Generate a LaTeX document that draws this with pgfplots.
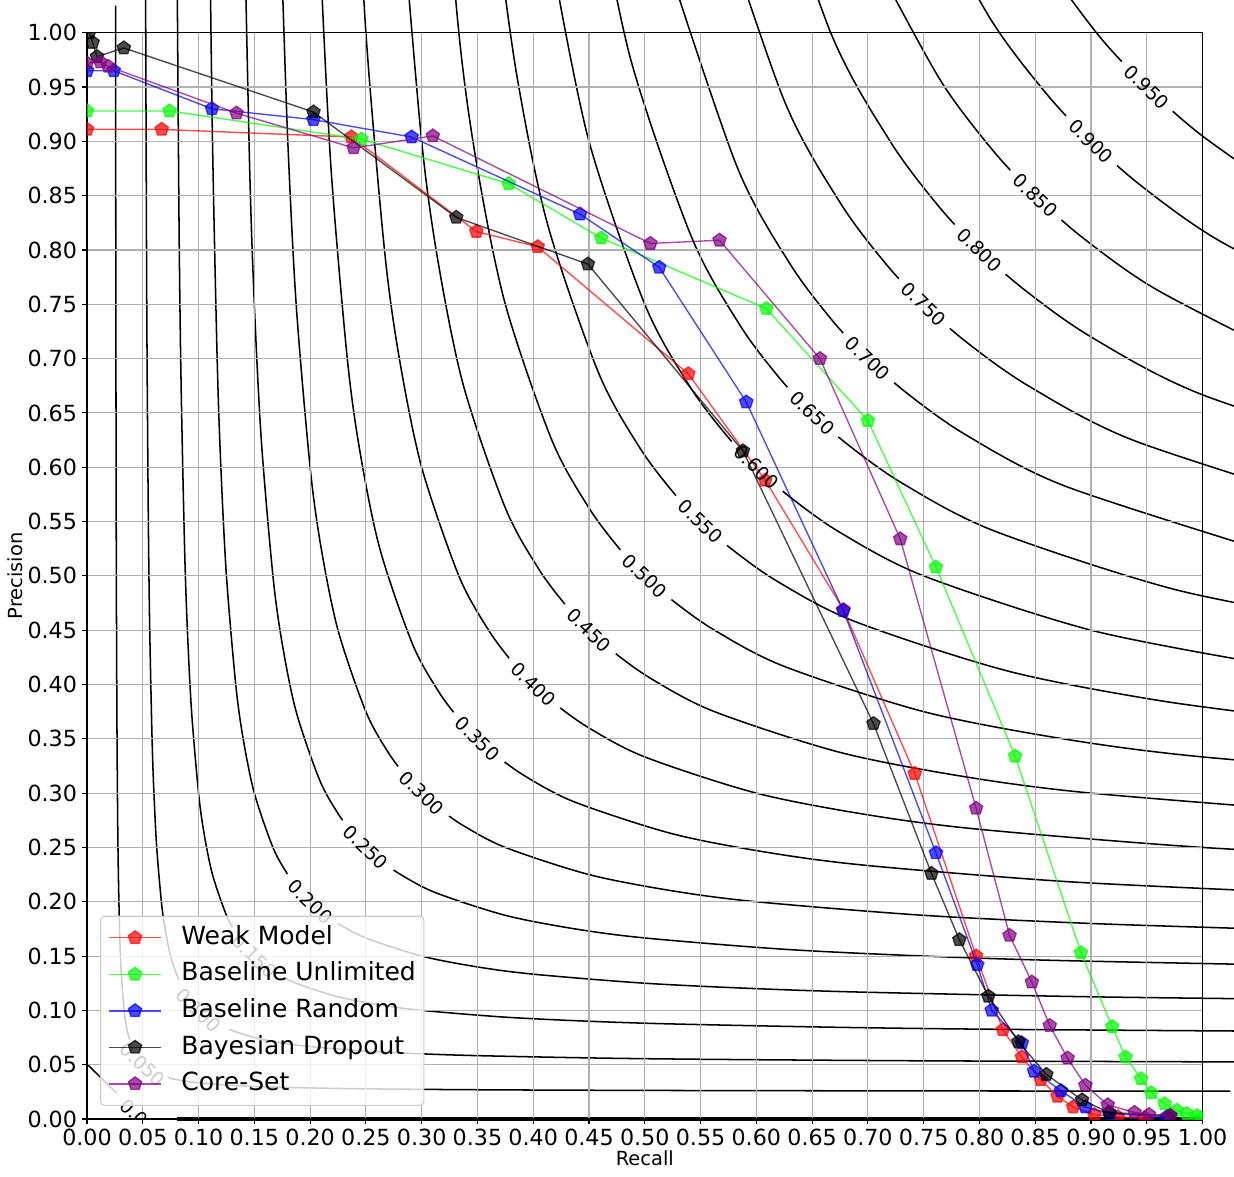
\documentclass[border=0pt]{standalone}
\usepackage{pgfplots}
\pgfplotsset{compat=1.18}
\usepackage{fontspec}
\setmainfont{DejaVu Sans}
\definecolor{gridc}{HTML}{B0B0B0}
\definecolor{cpurple}{HTML}{800080}
\definecolor{clime}{HTML}{00FF00}
\newcommand{\clab}{\fontsize{13.5}{16}\selectfont}
\newcommand{\ctext}[2]{\node[rotate=-44.2,font=\clab,inner sep=0pt] at (axis cs:#1,#1) {#2};}
\begin{document}
\begin{tikzpicture}
\begin{axis}[
 set layers,
 scale only axis, width=803.2pt, height=782.1pt,
 xmin=0, xmax=1, ymin=0, ymax=1,
 xtick={0,0.05,0.1,0.15,0.2,0.25,0.3,0.35,0.4,0.45,0.5,0.55,0.6,0.65,0.7,0.75,0.8,0.85,0.9,0.95,1},
 ytick={0,0.05,0.1,0.15,0.2,0.25,0.3,0.35,0.4,0.45,0.5,0.55,0.6,0.65,0.7,0.75,0.8,0.85,0.9,0.95,1},
 xtick pos=bottom, ytick pos=left,
 tick align=outside, major tick length=3.5pt,
 every tick/.style={black, line width=0.8pt},
 axis line style={line width=0.8pt},
 grid=major, major grid style={gridc, line width=0.8pt},
 /pgf/number format/fixed, /pgf/number format/fixed zerofill,
 /pgf/number format/precision=2, /pgf/number format/assume math mode=true,
 tick label style={font=\fontsize{16}{19.2}\selectfont, inner sep=3.5pt},
 xlabel={Recall}, ylabel={Precision},
 label style={font=\fontsize{14}{16.8}\selectfont},
 xlabel style={at={(axis description cs:0.5,-0.0285)}, anchor=north, inner sep=0pt},
 ylabel style={at={(axis description cs:-0.0573,0.5)}, anchor=south, inner sep=0pt},
 clip marker paths=true,
 legend style={at={(0,0)}, anchor=south west, xshift=9.4pt, yshift=9.4pt,
   draw=black!20, line width=0.8pt, fill=white, fill opacity=0.8, text opacity=1,
   rounded corners=2.8pt, inner xsep=5.8pt, inner ysep=7.2pt, row sep=9.7pt, column sep=14.4pt,
   font=\fontsize{18}{21.6}\selectfont,
   nodes={inner sep=0pt, text height=13.1pt, text depth=3.5pt, anchor=west}},
 legend cell align=left,
 legend image code/.code={\draw[mark repeat=2,mark phase=2,#1] plot coordinates {(0pt,0pt) (18.5pt,0pt) (37pt,0pt)};},
 contour/.style={black, line width=1.1pt, smooth, forget plot, on layer=axis background},
 series/.style={line width=1pt, opacity=0.7, mark=pentagon*, mark size=5pt, mark options={line width=1pt}},
]
% iso-F1 contour lines
\addplot[contour] coordinates {(0.02563,1.025) (0.02583,0.775) (0.02625,0.525) (0.02679,0.375) (0.0275,0.275) (0.02813,0.225) (0.02917,0.175) (0.03,0.15) (0.03125,0.125) (0.03333,0.1) (0.035,0.0875) (0.0375,0.075) (0.04167,0.0625) (0.045,0.05625) (0.04773,0.0525) (0.05,0.05) (0.0525,0.04773) (0.05625,0.045) (0.0625,0.04167) (0.075,0.0375) (0.0875,0.035) (0.1,0.03333) (0.125,0.03125) (0.15,0.03) (0.175,0.02917) (0.225,0.02813) (0.275,0.0275) (0.375,0.02679) (0.525,0.02625) (0.775,0.02583) (1.025,0.02563)};
\addplot[contour] coordinates {(0.0525,1.05) (0.05357,0.75) (0.055,0.55) (0.05625,0.45) (0.05833,0.35) (0.06,0.3) (0.0625,0.25) (0.06667,0.2) (0.07,0.175) (0.075,0.15) (0.08333,0.125) (0.09,0.1125) (0.09545,0.105) (0.1,0.1) (0.105,0.09545) (0.1125,0.09) (0.125,0.08333) (0.15,0.075) (0.175,0.07) (0.2,0.06667) (0.25,0.0625) (0.3,0.06) (0.35,0.05833) (0.45,0.05625) (0.55,0.055) (0.75,0.05357) (1.05,0.0525)};
\addplot[contour] coordinates {(0.08036,1.125) (0.0825,0.825) (0.08438,0.675) (0.0875,0.525) (0.09,0.45) (0.09375,0.375) (0.1,0.3) (0.105,0.2625) (0.1125,0.225) (0.125,0.1875) (0.135,0.16875) (0.14318,0.1575) (0.15,0.15) (0.1575,0.14318) (0.16875,0.135) (0.1875,0.125) (0.225,0.1125) (0.2625,0.105) (0.3,0.1) (0.375,0.09375) (0.45,0.09) (0.525,0.0875) (0.675,0.08438) (0.825,0.0825) (1.125,0.08036)};
\addplot[contour] coordinates {(0.11,1.1) (0.1125,0.9) (0.11667,0.7) (0.12,0.6) (0.125,0.5) (0.13333,0.4) (0.14,0.35) (0.15,0.3) (0.16667,0.25) (0.18,0.225) (0.19091,0.21) (0.2,0.2) (0.21,0.19091) (0.225,0.18) (0.25,0.16667) (0.3,0.15) (0.35,0.14) (0.4,0.13333) (0.5,0.125) (0.6,0.12) (0.7,0.11667) (0.9,0.1125) (1.1,0.11)};
\addplot[contour] coordinates {(0.14063,1.125) (0.14583,0.875) (0.15,0.75) (0.15625,0.625) (0.16667,0.5) (0.175,0.4375) (0.1875,0.375) (0.20833,0.3125) (0.225,0.28125) (0.23864,0.2625) (0.25,0.25) (0.2625,0.23864) (0.28125,0.225) (0.3125,0.20833) (0.375,0.1875) (0.4375,0.175) (0.5,0.16667) (0.625,0.15625) (0.75,0.15) (0.875,0.14583) (1.125,0.14063)};
\addplot[contour] coordinates {(0.175,1.05) (0.18,0.9) (0.1875,0.75) (0.2,0.6) (0.21,0.525) (0.225,0.45) (0.25,0.375) (0.27,0.3375) (0.28636,0.315) (0.3,0.3) (0.315,0.28636) (0.3375,0.27) (0.375,0.25) (0.45,0.225) (0.525,0.21) (0.6,0.2) (0.75,0.1875) (0.9,0.18) (1.05,0.175)};
\addplot[contour] coordinates {(0.21,1.05) (0.21875,0.875) (0.23333,0.7) (0.245,0.6125) (0.2625,0.525) (0.29167,0.4375) (0.315,0.39375) (0.33409,0.3675) (0.35,0.35) (0.3675,0.33409) (0.39375,0.315) (0.4375,0.29167) (0.525,0.2625) (0.6125,0.245) (0.7,0.23333) (0.875,0.21875) (1.05,0.21)};
\addplot[contour] coordinates {(0.24,1.2) (0.25,1.0) (0.26667,0.8) (0.28,0.7) (0.3,0.6) (0.33333,0.5) (0.36,0.45) (0.38182,0.42) (0.4,0.4) (0.42,0.38182) (0.45,0.36) (0.5,0.33333) (0.6,0.3) (0.7,0.28) (0.8,0.26667) (1.0,0.25) (1.2,0.24)};
\addplot[contour] coordinates {(0.28125,1.125) (0.3,0.9) (0.315,0.7875) (0.3375,0.675) (0.375,0.5625) (0.405,0.50625) (0.42955,0.4725) (0.45,0.45) (0.4725,0.42955) (0.50625,0.405) (0.5625,0.375) (0.675,0.3375) (0.7875,0.315) (0.9,0.3) (1.125,0.28125)};
\addplot[contour] coordinates {(0.3125,1.25) (0.33333,1.0) (0.35,0.875) (0.375,0.75) (0.41667,0.625) (0.45,0.5625) (0.47727,0.525) (0.5,0.5) (0.525,0.47727) (0.5625,0.45) (0.625,0.41667) (0.75,0.375) (0.875,0.35) (1.0,0.33333) (1.25,0.3125)};
\addplot[contour] coordinates {(0.36667,1.1) (0.385,0.9625) (0.4125,0.825) (0.45833,0.6875) (0.495,0.61875) (0.525,0.5775) (0.55,0.55) (0.5775,0.525) (0.61875,0.495) (0.6875,0.45833) (0.825,0.4125) (0.9625,0.385) (1.1,0.36667)};
\addplot[contour] coordinates {(0.42,1.05) (0.45,0.9) (0.5,0.75) (0.54,0.675) (0.57273,0.63) (0.6,0.6) (0.63,0.57273) (0.675,0.54) (0.75,0.5) (0.9,0.45) (1.05,0.42)};
\addplot[contour] coordinates {(0.455,1.1375) (0.4875,0.975) (0.54167,0.8125) (0.585,0.73125) (0.62045,0.6825) (0.65,0.65) (0.6825,0.62045) (0.73125,0.585) (0.8125,0.54167) (0.975,0.4875) (1.1375,0.455)};
\addplot[contour] coordinates {(0.525,1.05) (0.58333,0.875) (0.63,0.7875) (0.66818,0.735) (0.7,0.7) (0.735,0.66818) (0.7875,0.63) (0.875,0.58333) (1.05,0.525)};
\addplot[contour] coordinates {(0.5625,1.125) (0.625,0.9375) (0.675,0.84375) (0.71591,0.7875) (0.75,0.75) (0.7875,0.71591) (0.84375,0.675) (0.9375,0.625) (1.125,0.5625)};
\addplot[contour] coordinates {(0.6,1.2) (0.66667,1.0) (0.72,0.9) (0.76364,0.84) (0.8,0.8) (0.84,0.76364) (0.9,0.72) (1.0,0.66667) (1.2,0.6)};
\addplot[contour] coordinates {(0.70833,1.0625) (0.765,0.95625) (0.81136,0.8925) (0.85,0.85) (0.8925,0.81136) (0.95625,0.765) (1.0625,0.70833)};
\addplot[contour] coordinates {(0.75,1.125) (0.81,1.0125) (0.85909,0.945) (0.9,0.9) (0.945,0.85909) (1.0125,0.81) (1.125,0.75)};
\addplot[contour] coordinates {(0.855,1.06875) (0.90682,0.9975) (0.95,0.95) (0.9975,0.90682) (1.06875,0.855)};
\addplot[black, line width=1.1pt, forget plot, on layer=axis background] coordinates {(0,0.0506) (0.0266,0.0237)};
\addplot[black, line width=2.2pt, forget plot, on layer=axis background] coordinates {(0.0807,0) (1,0)};
% white gaps behind the contour labels (below the grid)
\addplot[forget plot, on layer=axis background, draw=none, mark=none,
  nodes near coords={\phantom{0.000}},
  every node near coord/.style={anchor=center, rotate=-44.2, font=\clab, fill=white, inner xsep=6.2pt, inner ysep=1pt}]
  coordinates {(0.95,0.95) (0.9,0.9) (0.85,0.85) (0.8,0.8) (0.75,0.75) (0.7,0.7) (0.65,0.65) (0.6,0.6) (0.55,0.55) (0.5,0.5) (0.45,0.45) (0.4,0.4) (0.35,0.35) (0.3,0.3) (0.25,0.25) (0.2,0.2) (0.15,0.15) (0.1,0.1) (0.05,0.05)};
% series
\addplot[series, red] coordinates {(0.0,0.911) (0.067,0.911) (0.237,0.904) (0.349,0.817) (0.404,0.803) (0.539,0.686) (0.608,0.588) (0.678,0.469) (0.742,0.318) (0.797,0.150) (0.821,0.082) (0.838,0.057) (0.855,0.036) (0.870,0.021) (0.884,0.011) (0.903,0.004) (0.924,0.002) (0.948,0.001)};
\addlegendentry{Weak Model}
\addplot[series, clime] coordinates {(0.0,0.928) (0.074,0.928) (0.246,0.902) (0.378,0.861) (0.461,0.811) (0.609,0.746) (0.700,0.643) (0.761,0.508) (0.832,0.334) (0.891,0.153) (0.919,0.085) (0.931,0.057) (0.945,0.037) (0.954,0.024) (0.966,0.014) (0.977,0.008) (0.986,0.005) (0.995,0.003) (0.999,0.001)};
\addlegendentry{Baseline Unlimited}
\addplot[series, blue] coordinates {(0.0,0.965) (0.024,0.965) (0.112,0.930) (0.203,0.920) (0.291,0.904) (0.442,0.833) (0.513,0.784) (0.591,0.660) (0.678,0.468) (0.761,0.245) (0.798,0.142) (0.811,0.100) (0.838,0.070) (0.849,0.044) (0.873,0.026) (0.895,0.011) (0.917,0.005) (0.968,0.002)};
\addlegendentry{Baseline Random}
\addplot[series, black] coordinates {(0.002,1.0) (0.005,0.991) (0.009,0.978) (0.033,0.986) (0.203,0.927) (0.331,0.830) (0.449,0.787) (0.588,0.615) (0.705,0.364) (0.757,0.226) (0.782,0.165) (0.808,0.113) (0.835,0.071) (0.860,0.041) (0.892,0.0175) (0.916,0.006) (0.971,0.003)};
\addlegendentry{Bayesian Dropout}
\addplot[series, cpurple] coordinates {(0.0,0.972) (0.012,0.973) (0.019,0.969) (0.134,0.926) (0.239,0.894) (0.310,0.905) (0.505,0.806) (0.567,0.809) (0.657,0.700) (0.729,0.534) (0.797,0.286) (0.827,0.169) (0.847,0.126) (0.863,0.086) (0.879,0.056) (0.895,0.031) (0.915,0.013) (0.939,0.006) (0.952,0.004) (0.971,0.003)};
\addlegendentry{Core-Set}
% contour labels
\ctext{0.95}{0.950}\ctext{0.90}{0.900}\ctext{0.85}{0.850}\ctext{0.80}{0.800}\ctext{0.75}{0.750}
\ctext{0.70}{0.700}\ctext{0.65}{0.650}\ctext{0.60}{0.600}\ctext{0.55}{0.550}\ctext{0.50}{0.500}
\ctext{0.45}{0.450}\ctext{0.40}{0.400}\ctext{0.35}{0.350}\ctext{0.30}{0.300}\ctext{0.25}{0.250}
\ctext{0.20}{0.200}\ctext{0.15}{0.150}\ctext{0.10}{0.100}\ctext{0.05}{0.050}
\begin{scope}
\clip (axis cs:0,0) rectangle (axis cs:1,1);
\node[rotate=-44.2,font=\clab,inner sep=0pt] at (axis cs:0.05,-0.002) {0.000};
\end{scope}
\end{axis}
\useasboundingbox (-62.64pt,-41.04pt) rectangle (825.84pt,805.68pt);
\end{tikzpicture}
\end{document}
